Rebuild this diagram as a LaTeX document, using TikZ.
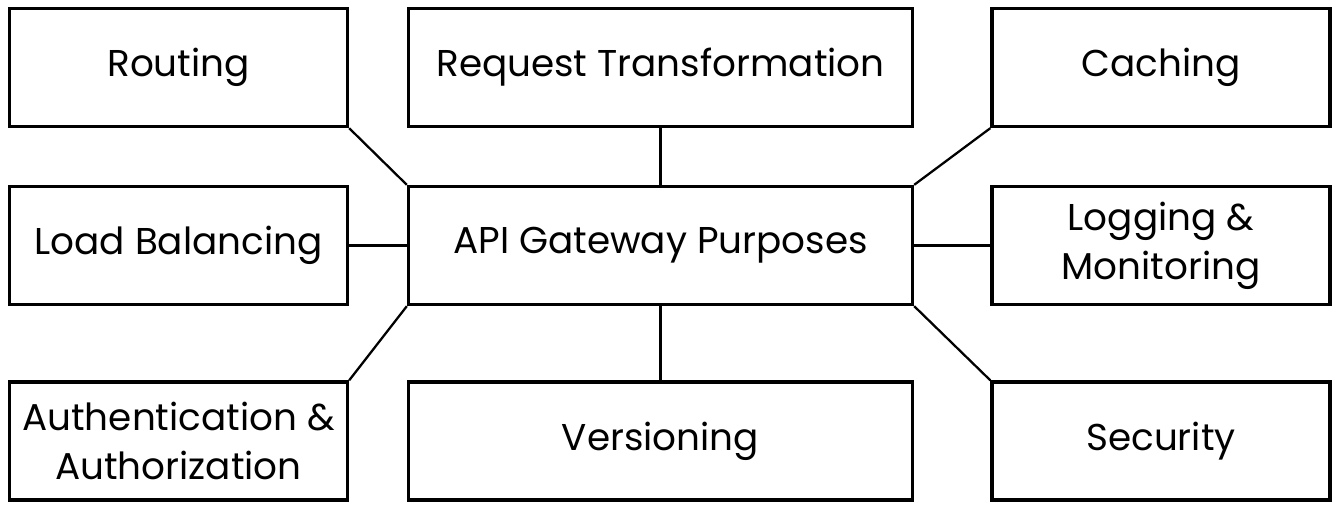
\documentclass[tikz,border=0pt]{standalone}
\usepackage{fontspec}
\setmainfont{Poppins}
\usepackage{tikz}

\begin{document}
\begin{tikzpicture}[
  x=0.75pt, y=-0.75pt,
  box/.style={draw=black, line width=2.5pt, align=center, font=\fontsize{28}{37}\selectfont, minimum height=88.5pt, minimum width=253.5pt, inner sep=0pt, fill=white},
  wide/.style={box, minimum width=378pt},
  link/.style={line width=1.7pt, draw=black}]
\useasboundingbox (0,0) rectangle (1338,510);
\node[box] (route) at (178.5,67.5) {Routing};
\node[wide] (reqt) at (660.5,67.5) {Request Transformation};
\node[box] (cache) at (1161,67.5) {Caching};
\node[box] (lb) at (178.5,245.5) {Load Balancing};
\node[wide] (gw) at (660.5,245.5) {API Gateway Purposes};
\node[box] (logm) at (1161,245.5) {Logging \&\\Monitoring};
\node[box] (auth) at (178.5,441) {Authentication \&\\Authorization};
\node[wide] (ver) at (660.5,441) {Versioning};
\node[box] (sec) at (1161,441) {Security};
\draw[link] (route.south east) -- (gw.north west);
\draw[link] (reqt) -- (gw);
\draw[link] (cache.south west) -- (gw.north east);
\draw[link] (lb) -- (gw);
\draw[link] (logm) -- (gw);
\draw[link] (auth.north east) -- (gw.south west);
\draw[link] (ver) -- (gw);
\draw[link] (sec.north west) -- (gw.south east);
\end{tikzpicture}
\end{document}
